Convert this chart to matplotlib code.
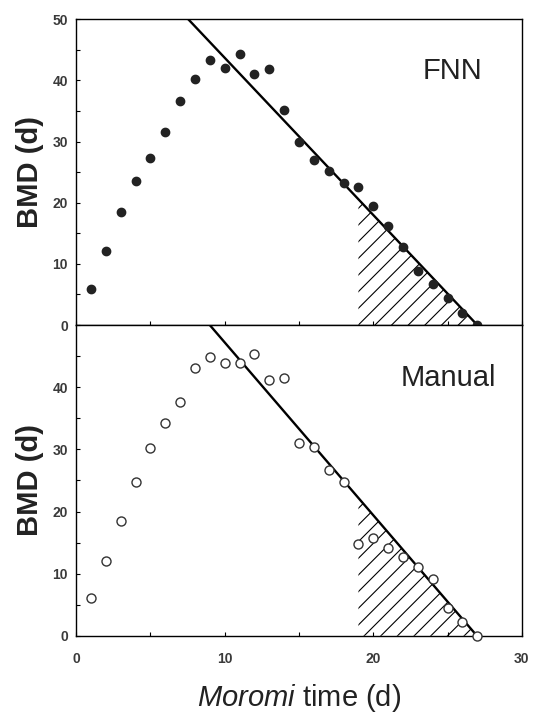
import matplotlib.pyplot as plt
import numpy as np

plt.rcParams['font.family'] = ['Liberation Sans', 'DejaVu Sans']
plt.rcParams['mathtext.fontset'] = 'custom'
plt.rcParams['mathtext.it'] = 'Liberation Sans:italic'
plt.rcParams['mathtext.rm'] = 'Liberation Sans'
plt.rcParams['hatch.linewidth'] = 0.8

days = np.arange(1, 28)
bmd_fnn = [5.9, 12.1, 18.5, 23.6, 27.4, 31.6, 36.7, 40.3, 43.4, 42.1, 44.3, 41.0, 41.8, 35.1,
           30.0, 27.0, 25.2, 23.3, 22.6, 19.5, 16.2, 12.8, 8.9, 6.7, 4.4, 2.0, 0.0]
bmd_manual = [6.1, 12.1, 18.4, 24.8, 30.2, 34.2, 37.7, 43.1, 44.8, 43.9, 43.9, 45.3, 41.1, 41.5,
              31.1, 30.3, 26.6, 24.8, 14.8, 15.8, 14.2, 12.7, 11.1, 9.2, 4.5, 2.3, 0.0]

# fitted lines: intercept, slope
fnn_fit = (69.4, -2.57)
manual_fit = (75.0, -2.78)
hatch_start = 19

fig = plt.figure(figsize=(5.33, 7.16), dpi=100)
ax1 = fig.add_axes([0.143, 0.546, 0.836, 0.427])
ax2 = fig.add_axes([0.143, 0.112, 0.836, 0.434])

def panel(ax, y, fit, filled, label, lx, yticks):
    a, b = fit
    x_top = (50 - a) / b
    x_end = -a / b
    xl = np.linspace(x_top, x_end, 50)
    ax.plot(xl, a + b * xl, color='black', lw=1.7, zorder=3)
    xh = np.linspace(hatch_start, x_end, 50)
    ax.fill_between(xh, 0, a + b * xh, facecolor='none', edgecolor='black',
                    hatch='//', linewidth=0, zorder=1)
    if filled:
        ax.plot(days, y, 'o', color='#222222', ms=6, clip_on=False, zorder=4)
    else:
        ax.plot(days, y, 'o', mfc='white', mec='#333333', mew=1.0, ms=6.5,
                clip_on=False, zorder=4)
    ax.set_xlim(0, 30)
    ax.set_ylim(0, 50)
    ax.set_yticks(yticks)
    ax.set_yticks(np.arange(0, 51, 5), minor=True)
    ax.set_xticks([0, 10, 20, 30])
    ax.set_xticks(np.arange(0, 31, 5), minor=True)
    ax.tick_params(which='both', direction='in', length=3, width=0.8,
                   labelsize=10, labelcolor='#3a3a3a', pad=6)
    for t in ax.get_yticklabels():
        t.set_fontweight('bold')
    ax.text(lx, 0.83, label, transform=ax.transAxes,
            ha='center', va='center', fontsize=21, color='#222222')
    ax.set_ylabel('BMD (d)', fontsize=21, fontweight='bold', color='#222222', labelpad=6)
    for s in ax.spines.values():
        s.set_linewidth(1.0)

panel(ax1, bmd_fnn, fnn_fit, True, 'FNN', 0.845, [0, 10, 20, 30, 40, 50])
panel(ax2, bmd_manual, manual_fit, False, 'Manual', 0.835, [0, 10, 20, 30, 40])
ax1.set_xticklabels([])
for t in ax2.get_xticklabels():
    t.set_fontweight('bold')
ax2.tick_params(axis='x', pad=12)
ax2.set_xlabel(r'$\it{Moromi}$ time (d)', fontsize=21, color='#222222', labelpad=11)

plt.savefig('out.png', dpi=100)
